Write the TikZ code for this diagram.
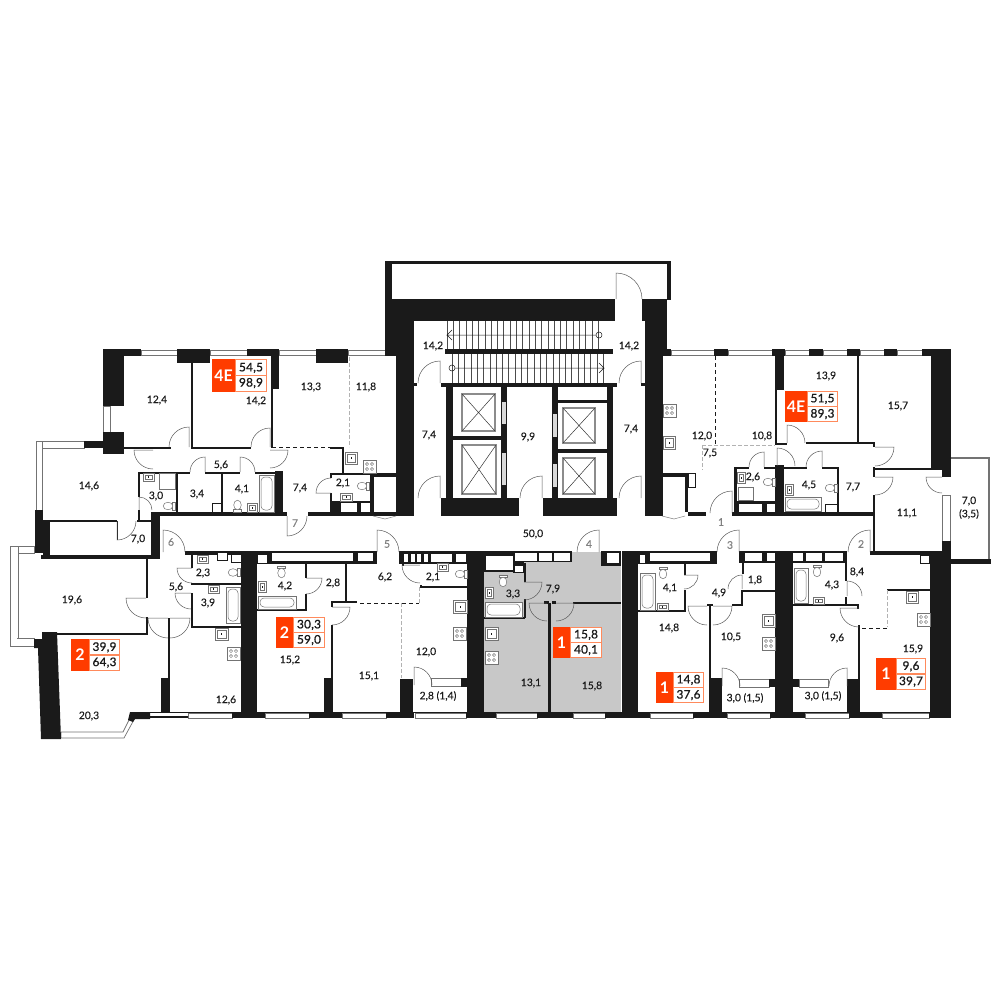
\documentclass[tikz,border=0pt]{standalone}
\usepackage{fontspec}
\setmainfont{Lato}
\usetikzlibrary{positioning}
\definecolor{wallc}{HTML}{1A1A1A}
\definecolor{redc}{HTML}{FF3C00}
\definecolor{edgec}{HTML}{FF8A5C}
\definecolor{flatc}{HTML}{C8C8C8}
\tikzset{
  wall/.style={fill=wallc,draw=none},
  gap/.style={fill=white,draw=none},
  winbox/.style={fill=white,draw=black!55,line width=.7pt},
  door/.style={draw=black!65,line width=.5pt},
  fix/.style={draw=black!55,line width=.5pt,fill=white},
  cutline/.style={draw=wallc,line width=.7pt,dash pattern=on 4pt off 3pt},
  softline/.style={draw=black!30,line width=.7pt,dash pattern=on 4pt off 2pt},
  lbl/.style={font=\fontsize{10.3}{10.3}\selectfont\addfontfeatures{FakeBold=.25},text=wallc,inner sep=0pt},
  num/.style={font=\fontsize{10.5}{10.5}\selectfont\addfontfeatures{FakeBold=.25},text=black!50,inner sep=0pt},
  badgenum/.style={font=\fontsize{11.8}{11.8}\selectfont\addfontfeatures{FakeBold=1,LetterSpace=2},text=wallc,inner sep=0pt},
  badgehead/.style={font=\fontsize{16}{16}\selectfont\bfseries,text=white,inner sep=0pt}
}
% sanitary and kitchen fittings
\newcommand{\sinkbox}[4]{\draw[fix] (#1,#2) rectangle (#3,#4);
  \draw[fix] ({#1+2},{#2+2}) rectangle ({#3-2},{#4-2});
  \fill[wallc] ({(#1+#3)/2-.5},{(#2+#4)/2-1}) rectangle ({(#1+#3)/2+.5},{(#2+#4)/2+1});}
\newcommand{\stovebox}[2]{\draw[fix] (#1,#2) rectangle ({#1+13},{#2+13});
  \foreach \i/\j in {4/4,9/4,4/9,9/9} \draw[fix] ({#1+\i},{#2+\j}) circle (1.6);}
\newcommand{\tubbox}[4]{\draw[fix,line width=.9pt] (#1,#2) rectangle (#3,#4);
  \draw[fix,rounded corners=4pt] ({#1+2},{#2+2}) rectangle ({#3-2},{#4-2});}
\newcommand{\toilet}[3]{\begin{scope}[shift={(#1,#2)},rotate=#3]
  \draw[fix] (-4,-5) rectangle (4,-2.5);
  \draw[fix] (0,2) ellipse [x radius=3.8,y radius=4.8];
  \end{scope}}
% flat badge: box, split of the red part, head, two areas
\newcommand{\badge}[8]{\fill[edgec] (#2,#3) rectangle (#4,#5);
  \fill[redc] (#2,#3) rectangle (#6,#5);
  \fill[white] ({#6+1},{#3+1.2}) rectangle ({#4-1},{(#3+#5)/2-.6});
  \fill[white] ({#6+1},{(#3+#5)/2+.6}) rectangle ({#4-1},{#5-1.2});
  \node[badgehead] (#1h) at ({(#2+#6)/2},{(#3+#5)/2}) {#7};
  \foreach \p/\t in {#8} {\node[badgenum] (#1\p) at ({(#6+#4)/2},{(#3+#5)/2+\p*7.6}) {\t};}}
\begin{document}
\begin{tikzpicture}[x=1pt,y=-1pt]
\useasboundingbox (0,0) rectangle (1001,1001);
% grey flat
\fill[flatc] (484,553) rectangle (621,712);
\fill[flatc] (572,552) rectangle (601,566);
% windows, top and bottom
\foreach \xa/\xb in {141/177,210/247,279/316,348/385,671/714,728/772,785/809,823/847,860/884,897/922}
  \draw[winbox] (\xa,350) rectangle (\xb,355);
\foreach \xa/\xb in {188/232,265/309,342/386,415/466,496/537,573/605,650/693,727/770,805/849,882/929}
  \draw[winbox] (\xa,713) rectangle (\xb,718);
\draw[winbox] (36,441) rectangle (84,448);
\draw[winbox] (36,441) rectangle (42,510);
\draw[gap] (37,442) rectangle (41,447);
\draw[winbox] (103,406) rectangle (110,432);
\draw[winbox] (431,678) rectangle (461,686);
\draw[winbox] (739,679) rectangle (769,687);
\draw[winbox] (799,679) rectangle (828,687);
\draw[winbox] (942,495) rectangle (950,541);
% balconies
\draw[winbox] (10,546) rectangle (34,553);
\draw[winbox] (10,546) rectangle (18,646);
\draw[winbox] (10,638) rectangle (34,646);
\fill[white] (11,547) rectangle (17,645);
\draw[black!55,line width=.7pt] (18,553) -- (18,638);
\draw[winbox] (61,732) -- (123,732) -- (132,714) -- (136,716) -- (124,738) -- (61,738) -- cycle;
\draw[draw=black!55,line width=2pt] (951,458) -- (989,458) -- (989,560);
% thick walls
\foreach \xa/\ya/\xb/\yb in {
  103/349/141/356, 103/349/124/406, 177/349/210/363, 247/349/279/356, 271/349/279/389, 316/349/348/363,
  103/432/124/454, 84/441/103/448, 35/510/43/553, 43/520/50/559, 41/555/160/559, 151/512/160/559,
  151/512/287/516, 308/512/414/516, 275/471/283/512,
  161/678/170/712, 241/551/257/718, 324/678/333/712, 400/679/413/712, 467/551/484/718,
  461/678/467/687, 622/551/638/718, 709/678/722/712, 775/551/793/718, 769/679/775/687, 793/679/799/687,
  847/679/858/712, 930/551/951/718,
  135/712/951/713, 135/716/188/718, 232/712/265/718, 309/712/342/718, 386/712/414/718,
  466/712/496/718, 537/712/573/718, 605/712/650/718, 693/712/727/718, 770/712/805/718, 849/712/882/718, 929/712/951/718,
  385/299/615/321, 396/299/414/516, 385/261/392/356, 392/321/396/356, 385/261/671/264, 667/261/671/300,
  642/299/667/321, 645/299/663/516, 663/321/667/356,
  441/383/617/387, 414/383/417/386, 641/383/645/386, 445/349/613/354,
  441/498/519/516, 543/498/617/516, 446/387/453/498, 501/387/507/498, 453/436/501/440,
  552/387/558/498, 607/387/613/498, 558/400/607/403, 558/449/607/453,
  645/349/671/356, 714/349/728/356, 772/349/785/356, 775/349/784/390, 809/349/823/356, 847/349/860/356, 884/349/897/356,
  922/349/951/356, 931/349/951/468, 942/468/951/477, 942/541/951/555, 951/559/991/564,
  775/465/784/515, 732/512/873/516, 688/512/706/516, 685/473/688/512, 662/473/685/477, 734/501/784/515,
  330/501/374/516, 373/473/396/477, 663/473/680/477, 370/474/374/516, 330/473/373/475,
  185/551/241/555, 257/551/377/564, 399/551/467/564, 484/551/572/562, 484/551/515/572, 513/562/524/573,
  601/551/621/566, 638/551/717/564, 739/551/775/563, 793/551/847/563, 870/551/942/555, 920/555/930/564,
  217/551/228/561, 231/551/241/563}
  \fill[wall] (\xa,\ya) rectangle (\xb,\yb);
\fill[wall] (42,632) -- (57,632) -- (61,739) -- (41,739) -- (38,648) -- (34,648) -- (34,639) -- (42,639) -- cycle;
\fill[wall] (130,712) -- (150,712) -- (150,719) -- (135,719) -- (133,722) -- (128,720) -- cycle;
% thin walls
\foreach \xa/\ya/\xb/\yb in {
  191/363/193/447, 124/447/171/448.5, 191/447/251/448.5, 271/389/272.5/448, 50/520/117/521.5, 137/520/151/521.5,
  117/521/118/540, 138/472/139.5/497, 138/510/139.5/521, 139/472/190/473.5, 205/472/240/473.5, 255/472/283/473.5,
  176/472/177.5/512, 221/472/223/512, 330/447/344/449, 342/447/344/473, 330/473/331.5/478, 330/493/331.5/501,
  146/559/148/598, 146/617/148/634, 57/633/148/634.5, 168/618/170/678, 191/626/241/627.5,
  191/583/241/585, 191/593/193/627, 191/555/193/568, 305/564/307/578, 305/594/307/610, 257/609/307/611,
  272/562/345/564, 345/564/347/602, 331/601/357/603, 331/603/333/607, 331/625/333/678, 402/560/404/566,
  420/585/422/587, 420/586/467/587.5,
  524/563/525.5/582, 524/599/525.5/618, 484/617/525/618.5, 548/603/551/712, 573/602/621/604,
  544/601/549/604, 552/601/556/604,
  684/564/686/575, 684/590/686/612, 638/610/686/612, 742/563/744/574, 742/590/775/592, 741/590/743/605, 732/604/743/605.5,
  709/605/711/678, 707/604/713/606,
  845/551/847/581, 845/597/847/606, 793/604/858/606, 857/604/859/609, 858/625/859.5/712, 887/589/930/590.5,
  857/356/858.5/443, 775/390/777/445, 806/442/873/444, 777/443/787/445, 873/442/875/447, 873/467/875/477, 873/495/875/552,
  873/468/942/469.5, 734/467/737/515, 734/467/749/468.5, 764/467/784/468.5, 784/467/807/468.5, 822/467/838/468.5, 837/467/838.5/512}
  \fill[wall] (\xa,\ya) rectangle (\xb,\yb);
% shaft openings
\foreach \xa/\ya/\xb/\yb in {
  218/553/227/560, 232/555/241/562, 258/555/267/563, 272/553/353/561, 358/553/373/561,
  404/554/408/562, 411/554/415/562, 417/554/421/562, 424/554/428/562, 431/554/452/562, 456/554/466/562,
  486/556/513/570, 515/553/537/561, 539/553/552/561, 554/553/570/561, 515/566/523/572, 607/553/619/563,
  640/555/645/563, 650/553/710/561, 745/553/762/561, 767/553/775/561, 793/553/803/561, 806/553/822/561, 825/553/843/561,
  921/556/929/563, 341/503/357/512, 361/503/370/512, 739/504/762/512, 767/504/775/512,
  453/394/501/398}
  \draw[gap] (\xa,\ya) rectangle (\xb,\yb);
\fill[white] (558,391) rectangle (607,400);
% elevators
\foreach \xa/\ya/\xb/\yb in {462/394/495/431, 462/445/496/494, 563/408/595/443, 563/458/595/494} {
  \draw[black!45,line width=1.2pt] (\xa,\ya) rectangle (\xb,\yb);
  \draw[black!80,line width=.5pt] (\xa,\ya) -- (\xb,\yb) (\xb,\ya) -- (\xa,\yb);
}
\foreach \xa/\ya/\xb/\yb in {502/402/506/424, 502/453/506/485, 553/414/557/437, 553/464/557/487}
  \fill[black!15] (\xa,\ya) rectangle (\xb,\yb);
% stairs
\foreach \i in {0,...,24} {
  \draw[black!70,line width=.6pt] ({447+\i*6.3},321) -- ({447+\i*6.3},349);
  \draw[black!70,line width=.6pt] ({452+\i*6.3},354) -- ({452+\i*6.3},383);
}
\draw[wallc,line width=.5pt] (599,335) circle (3) (596,335) -- (447,335) -- +(5,-5) (447,335) -- +(5,5);
\draw[wallc,line width=.5pt] (452,368) circle (3) (455,368) -- (604,368) -- +(-5,-5) (604,368) -- +(-5,5);
% doors: hinge, leaf angle, end angle, radius
\foreach \cx/\cy/\a/\b/\r in {
  616/299/270/360/26, 440/383/270/180/22, 641/383/270/180/22, 440/498/270/180/22, 641/498/270/180/22, 542/498/270/180/22,
  189/447/270/180/20, 270/447/270/180/19, 270/450/0/90/18, 205/472/270/180/15, 240/472/270/360/15, 153/450/180/90/19,
  139/510/270/360/13, 287/516/90/0/20, 331/493/180/270/15, 163/552/270/360/22, 117/521/90/0/19,
  146/598/180/90/20, 168/618/180/90/20, 170/618/0/90/20, 191/593/180/90/16, 192/568/180/90/15, 306/578/0/90/16,
  332/607/0/90/18, 377/552/270/360/22, 420/565/180/90/18, 414/685/270/360/18,
  599/552/270/180/22, 524/582/0/90/18, 547/603/180/90/18, 556/603/0/90/18,
  684/575/0/90/14, 742/589/270/180/14, 739/552/270/180/22, 707/606/180/90/19, 713/606/0/90/19,
  722/686/270/360/18, 870/552/270/180/22, 847/596/270/360/15, 859/608/180/90/19, 787/443/270/360/18,
  875/447/0/90/19, 875/477/0/90/18, 822/467/270/180/16, 732/513/270/180/22, 764/467/270/180/15, 777/466/270/360/18, 942/477/180/90/16,
  847/686/270/180/18}
  \draw[door] (\cx,\cy) -- +(\a:\r) arc (\a:\b:\r);
% dashed room limits
\draw[cutline] (272,447.5) -- (330,447.5);
\draw[softline] (349,357) -- (349,447);
\draw[cutline] (360,603) -- (419,603);
\draw[softline] (419,587) -- (419,603);
\draw[softline] (401,603) -- (401,678);
\draw[cutline] (862,628) -- (887,628);
\draw[softline] (887,590) -- (887,627);
\draw[cutline] (715,356) -- (715,445);
\draw[softline] (702,445) -- (775,445);
\draw[softline] (702,445) -- (702,470);
% shaft doors in corridor
\draw[black!50,line width=.5pt] (373,516) -- (385,519) -- (396,516);
\draw[black!50,line width=.5pt] (662,516) -- (674,519) -- (685,516);
% kitchens
\foreach \x/\y in {363/460, 453/627, 485/651, 663/404, 762/637, 917/613, 227/647} \stovebox{\x}{\y};
\foreach \xa/\ya/\xb/\yb in {
  345/452/357/464, 453/600/467/613, 485/627/498/640, 663/436/675/449, 762/614/775/627, 906/591/918/603, 215/628/228/640,
  143/473/154/481, 340/493/352/501, 197/555/208/563, 208/585/219/593, 258/581/266/592, 437/563/448/571, 485/587/493/598,
  657/603/668/610, 813/597/824/604, 737/472/745/483, 785/484/793/495, 247/503/257/512}
  \sinkbox{\xa}{\ya}{\xb}{\yb};
% tubs
\foreach \xa/\ya/\xb/\yb in {259/475/274/512, 226/587/240/623, 258/596/296/609, 485/602/522/617, 640/573/655/610, 794/568/808/603, 785/497/821/511}
  \tubbox{\xa}{\ya}{\xb}{\yb};
\draw[fix] (159,473) rectangle (175,489);
\draw[fix] (738,487) rectangle (753,500);
\draw[wallc,line width=1pt] (212,503) rectangle (222,512);
\draw[wallc,line width=1pt] (825,504) rectangle (837,512);
\draw[wallc,line width=1pt] (688,473) rectangle (695,487);
\fill[white] (689.5,477) rectangle (693,485);
% toilets
\foreach \x/\y/\a in {237.5/507/180, 170/506/-90, 364/486/-90, 281.5/571/0, 235/572.5/-90, 503/580/0, 462/574/-90,
  663/572/0, 817/570/0, 770/482/-90, 832/488/-90}
  \toilet{\x}{\y}{\a};
% room labels
\foreach \x/\y/\t in {157/400/{12,4}, 256/401/{14,2}, 311/387/{13,3}, 366/387/{11,8}, 89/486/{14,6}, 221/465/{5,6}, 156/496/{3,0},
  197/494/{3,4}, 242/489/{4,1}, 300/488/{7,4}, 343/483/{2,1}, 138/539/{7,0}, 72/600/{19,6}, 203/573/{2,3}, 176/587/{5,6},
  208/603/{3,9}, 285/586/{4,2}, 333/583/{2,8}, 226/700/{12,6}, 290/660/{15,2}, 89/716/{20,3}, 385/577/{6,2}, 433/577/{2,1},
  513/594/{3,3}, 553/589/{7,9}, 426/652/{12,0}, 369/676/{15,1}, 438/696/{2,8 (1,4)}, 531/683/{13,1}, 592/686/{15,8},
  533/534/{50,0}, 433/346/{14,2}, 629/346/{14,2}, 429/435/{7,4}, 528/437/{9,9}, 631/429/{7,4}, 826/376/{13,9}, 898/406/{15,7},
  702/436/{12,0}, 762/436/{10,8}, 710/453/{7,5}, 753/477/{2,6}, 809/485/{4,5}, 853/487/{7,7}, 907/513/{11,1}, 969/501/{7,0},
  969/514/{(3,5)}, 670/588/{4,1}, 719/593/{4,9}, 755/580/{1,8}, 669/628/{14,8}, 731/637/{10,5}, 745/698/{3,0 (1,5)},
  823/696/{3,0 (1,5)}, 837/638/{9,6}, 857/572/{8,4}, 832/585/{4,3}, 913/649/{15,9}}
  \node[lbl] (room\x-\y) at (\x,\y) {\t};
% entrance numbers
\foreach \x/\y/\t in {721/522/1, 861/544/2, 730/545/3, 589/544/4, 387/544/5, 171/542/6, 295/523/7}
  \node[num] (entry\t) at (\x,\y) {\t};
% badges
\badge{a}{212}{359}{267}{392}{235}{4E}{-1/{54,5},1/{98,9}}
\badge{b}{785}{391}{838}{422}{807}{4E}{-1/{51,5},1/{89,3}}
\badge{c}{71}{639}{120}{671}{89}{2}{-1/{39,9},1/{64,3}}
\badge{d}{276}{617}{325}{648}{293}{2}{-1/{30,3},1/{59,0}}
\badge{e}{553}{627}{602}{658}{570}{1}{-1/{15,8},1/{40,1}}
\badge{f}{656}{672}{704}{703}{673}{1}{-1/{14,8},1/{37,6}}
\badge{g}{876}{658}{926}{690}{896}{1}{-1/{9,6},1/{39,7}}
\end{tikzpicture}
\end{document}
